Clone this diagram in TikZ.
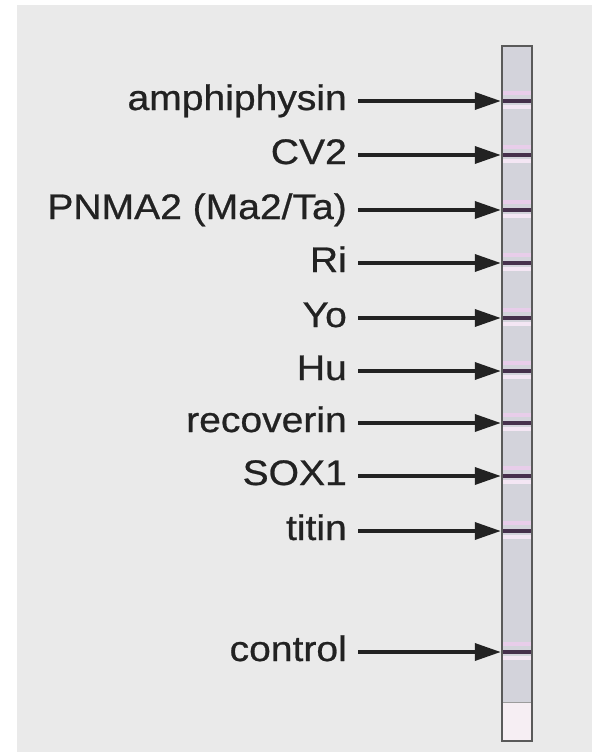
\documentclass[tikz,border=0pt]{standalone}
\usepackage{fontspec}
\setmainfont{Liberation Sans}[FakeStretch=1.1, FakeBold=0.7]
\usetikzlibrary{arrows.meta}
\definecolor{panel}{HTML}{EAEAEA}
\definecolor{gelfill}{HTML}{D3D3DB}
\definecolor{gelfoot}{HTML}{F6EEF3}
\definecolor{gelrim}{HTML}{5A5A5A}
\definecolor{bandcore}{HTML}{46304C}
\definecolor{bandup}{HTML}{E8CDEA}
\definecolor{banddown}{HTML}{F4E6F4}
\definecolor{ink}{HTML}{222222}
\tikzset{
  lbl/.style={anchor=east, inner sep=0pt, text height=26pt, text depth=8pt,
    text=ink, font=\fontsize{35.5}{40}\selectfont},
  arr/.style={draw=ink, line width=3.5pt, shorten <=11pt,
    -{Triangle[length=26pt,width=17pt]}},
  gel/.style={draw=gelrim, line width=2.4pt, minimum width=30pt,
    minimum height=695pt, inner sep=0pt},
}
\begin{document}
\begin{tikzpicture}[x=1pt,y=-1pt]
  \useasboundingbox (0,0) rectangle (592,752);
  \fill[white] (0,0) rectangle (592,752);
  \fill[panel] (17,5) rectangle (592,752);
  % test strip body
  \fill[gelfill] (502,46) rectangle (532,702);
  \fill[gelfoot] (502,702) rectangle (532,741);
  \draw[gelrim!60, line width=0.8pt] (502,702) -- (532,702);
  % reactive bands on the strip
  \foreach \y in {101,155,210,263,318,371,423,476,531,652}{
    \fill[bandup] (502,\y-10) rectangle (532,\y-6.5);
    \fill[banddown] (502,\y+3.5) rectangle (532,\y+7.5);
    \fill[bandcore] (502,\y-1.7) rectangle (532,\y+1.7);
  }
  \node[gel] (strip) at (517,393.5) {};
  % antigen labels with arrows to their bands
  \foreach \y/\t [count=\i] in {101/amphiphysin, 155/CV2, 210/{PNMA2 (Ma2/Ta)},
      263/Ri, 318/Yo, 371/Hu, 423/recoverin, 476/SOX1, 531/titin, 652/control}{
    \node[lbl] (l\i) at (347,\y) {\t};
    \draw[arr] (l\i.east) -- (l\i.east -| strip.west);
  }
\end{tikzpicture}
\end{document}
